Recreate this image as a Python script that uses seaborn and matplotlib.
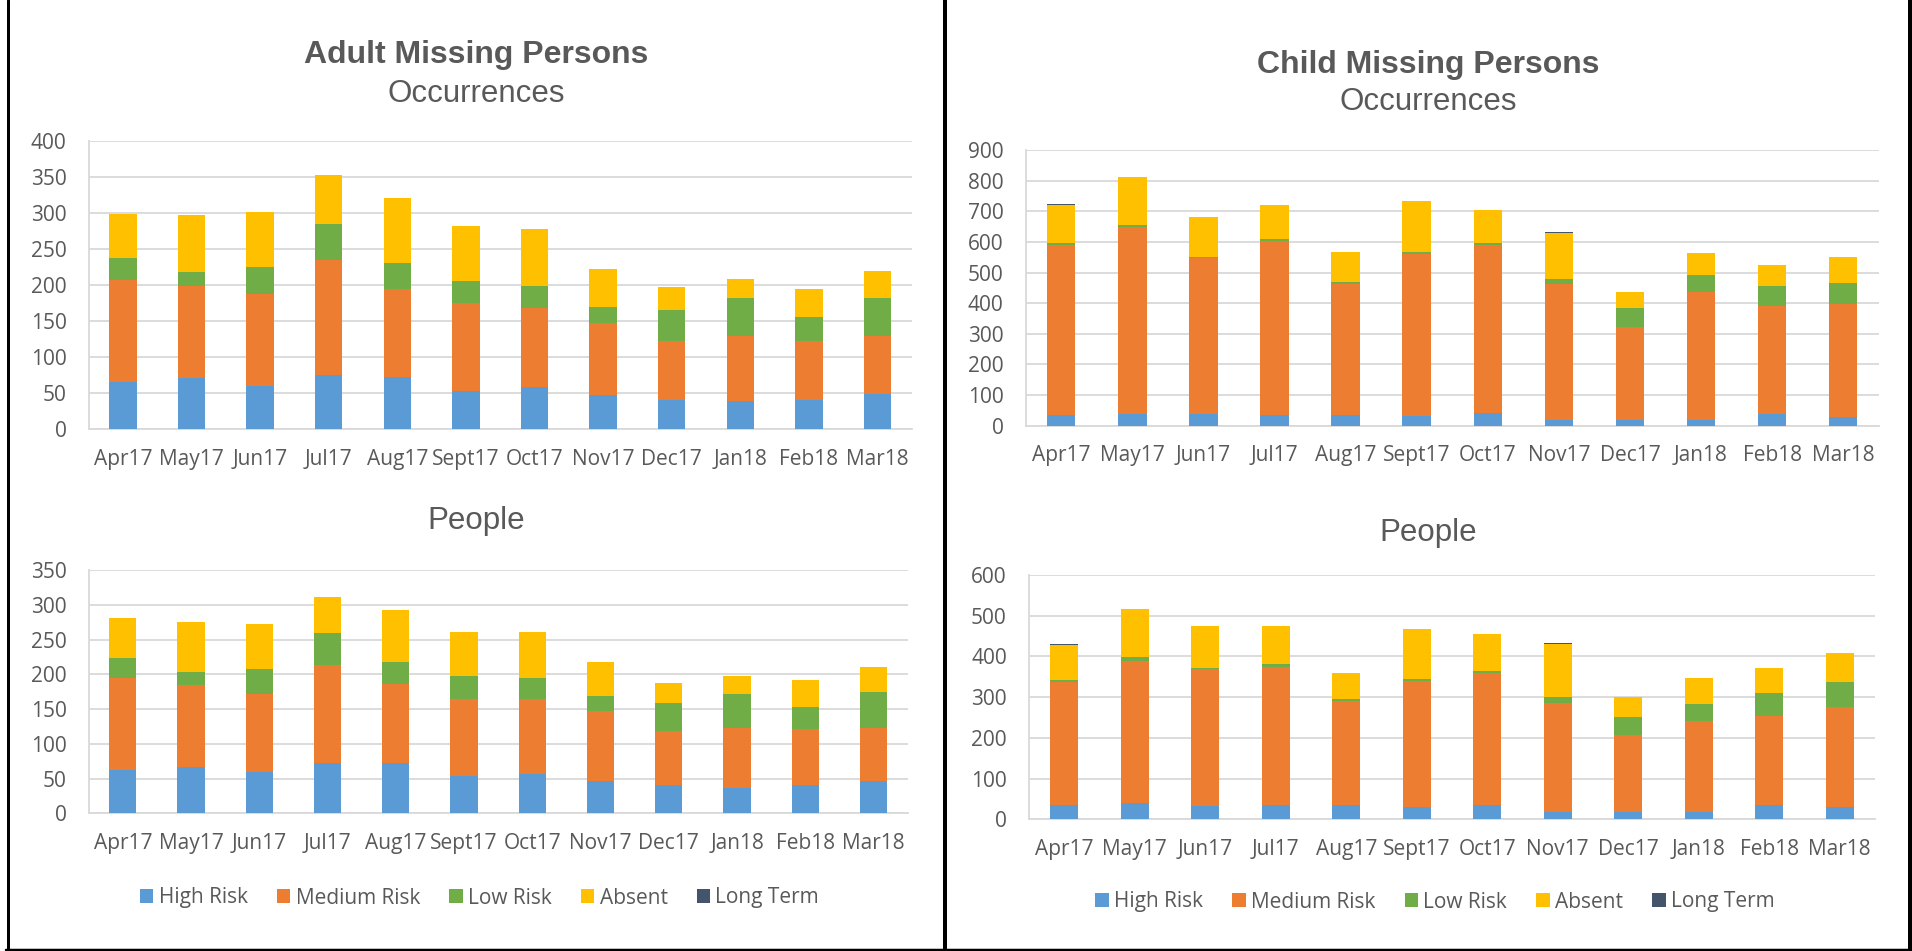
import numpy as np
import matplotlib
matplotlib.use("Agg")
import matplotlib.pyplot as plt
from matplotlib.patches import Patch
from matplotlib.lines import Line2D
import seaborn as sns

months = ["Apr17", "May17", "Jun17", "Jul17", "Aug17", "Sept17",
          "Oct17", "Nov17", "Dec17", "Jan18", "Feb18", "Mar18"]
series_names = ["High Risk", "Medium Risk", "Low Risk", "Absent", "Long Term"]
series_colors = ["#5B9BD5", "#ED7D31", "#70AD47", "#FFC000", "#44546A"]

# Adult occurrences
adult_occ_high = [66, 71, 60, 75, 73, 53, 58, 47, 41, 39, 40, 49]
adult_occ_medium = [141, 128, 128, 160, 122, 122, 110, 100, 81, 91, 82, 81]
adult_occ_low = [31, 19, 37, 49, 35, 30, 31, 23, 44, 52, 33, 52]
adult_occ_absent = [60, 79, 76, 68, 90, 77, 78, 52, 31, 27, 39, 37]
adult_occ_long = [0, 0, 0, 0, 0, 0, 0, 0, 0, 0, 0, 0]

# Adult people
adult_ppl_high = [63, 66, 60, 73, 73, 53, 57, 46, 40, 37, 40, 46]
adult_ppl_medium = [131, 118, 111, 140, 113, 112, 107, 101, 78, 85, 81, 77]
adult_ppl_low = [30, 19, 37, 47, 32, 32, 31, 22, 41, 50, 32, 51]
adult_ppl_absent = [57, 72, 65, 51, 74, 64, 66, 49, 28, 26, 39, 36]
adult_ppl_long = [0, 0, 0, 0, 0, 0, 0, 0, 0, 0, 0, 0]

# Child occurrences
child_occ_high = [34, 39, 37, 35, 35, 33, 41, 17, 20, 20, 38, 28]
child_occ_medium = [557, 610, 511, 568, 429, 528, 550, 447, 303, 415, 353, 369]
child_occ_low = [7, 7, 4, 6, 5, 5, 4, 14, 61, 57, 65, 70]
child_occ_absent = [124, 155, 128, 112, 97, 169, 108, 151, 52, 71, 68, 83]
child_occ_long = [2, 0, 0, 0, 0, 0, 0, 3, 0, 0, 0, 0]

# Child people
child_ppl_high = [34, 39, 32, 34, 36, 29, 35, 17, 19, 17, 34, 29]
child_ppl_medium = [302, 351, 336, 341, 255, 310, 324, 268, 189, 225, 220, 248]
child_ppl_low = [6, 8, 4, 6, 5, 6, 4, 15, 44, 41, 56, 60]
child_ppl_absent = [85, 118, 102, 93, 64, 123, 91, 131, 49, 63, 62, 71]
child_ppl_long = [3, 0, 0, 0, 0, 0, 0, 3, 0, 0, 0, 0]

W, H = 1912, 951
TEXT = "#595959"
GRID = "#D9D9D9"

sns.set_theme(style="white")
plt.rcParams["font.family"] = ["Open Sans", "DejaVu Sans"]

fig = plt.figure(figsize=(W / 100, H / 100), dpi=100)
fig.patch.set_facecolor("white")


def axes_px(left, right, top, bottom):
    return fig.add_axes([left / W, 1 - bottom / H, (right - left) / W, (bottom - top) / H])


def stacked_bars(ax, layers, ymax, step):
    cum = np.cumsum(np.array(layers, dtype=float), axis=0)
    # tallest cumulative layer first so each lower segment paints over it
    for i in range(len(layers) - 1, -1, -1):
        sns.barplot(x=months, y=cum[i], color=series_colors[i], saturation=1,
                    width=0.4, linewidth=0, errorbar=None, ax=ax, zorder=3)
    ax.set_ylim(0, ymax)
    ax.set_xlim(-0.5, len(months) - 0.5)
    ax.set_yticks(np.arange(0, ymax + 1, step))
    ax.grid(axis="y", color=GRID, linewidth=1.3, zorder=0)
    ax.grid(axis="x", visible=False)
    for s in ["top", "right"]:
        ax.spines[s].set_visible(False)
    for s in ["left", "bottom"]:
        ax.spines[s].set_color(GRID)
        ax.spines[s].set_linewidth(1.3)
    ax.tick_params(axis="both", length=0, labelsize=15, labelcolor=TEXT)
    ax.tick_params(axis="y", pad=16)
    ax.tick_params(axis="x", pad=14)
    ax.set_xlabel("")
    ax.set_ylabel("")
    ax.set_facecolor("white")


ax1 = axes_px(88.7, 911.7, 140.7, 429.3)
stacked_bars(ax1, [adult_occ_high, adult_occ_medium, adult_occ_low,
                   adult_occ_absent, adult_occ_long], 400, 50)
ax2 = axes_px(88.7, 907.7, 570, 813.3)
stacked_bars(ax2, [adult_ppl_high, adult_ppl_medium, adult_ppl_low,
                   adult_ppl_absent, adult_ppl_long], 350, 50)
ax3 = axes_px(1025.7, 1878.7, 150, 425.7)
stacked_bars(ax3, [child_occ_high, child_occ_medium, child_occ_low,
                   child_occ_absent, child_occ_long], 900, 100)
ax4 = axes_px(1029, 1875, 575, 819.3)
stacked_bars(ax4, [child_ppl_high, child_ppl_medium, child_ppl_low,
                   child_ppl_absent, child_ppl_long], 600, 100)

title_font = ["Liberation Sans", "DejaVu Sans"]


def ftext(x, y, s, **kw):
    fig.text(x / W, 1 - y / H, s, ha="center", va="baseline", color=TEXT,
             family=title_font, **kw)


ftext(476, 63.3, "Adult Missing Persons", fontsize=23, fontweight="bold")
ftext(476, 101.7, "Occurrences", fontsize=22.5)
ftext(476, 529, "People", fontsize=22.5)
ftext(1428, 72.7, "Child Missing Persons", fontsize=23, fontweight="bold")
ftext(1428, 110, "Occurrences", fontsize=22.5)
ftext(1428, 541, "People", fontsize=22.5)

handles = [Patch(facecolor=c, edgecolor="none") for c in series_colors]
for cx, cy in [(479.5, 898), (1435, 902)]:
    leg = fig.legend(handles, series_names, loc="center",
                     bbox_to_anchor=(cx / W, 1 - cy / H), ncol=5, frameon=False,
                     fontsize=15, handlelength=0.65, handleheight=0.65,
                     handletextpad=0.25, columnspacing=1.4)
    for t in leg.get_texts():
        t.set_color(TEXT)


# panel frames
def vline(x, y0, y1, lw):
    fig.add_artist(Line2D([x / W, x / W], [1 - y0 / H, 1 - y1 / H],
                          color="black", linewidth=lw * 0.72,
                          transform=fig.transFigure))


def hline(y, x0, x1, lw):
    fig.add_artist(Line2D([x0 / W, x1 / W], [1 - y / H, 1 - y / H],
                          color="black", linewidth=lw * 0.72,
                          transform=fig.transFigure))


vline(7.7, 0, 951, 3)
vline(945, 0, 951, 4)
vline(1909.5, 0, 951, 4)
hline(949.5, 6, 1912, 2.5)

fig.savefig("out.png", dpi=100, facecolor="white")
